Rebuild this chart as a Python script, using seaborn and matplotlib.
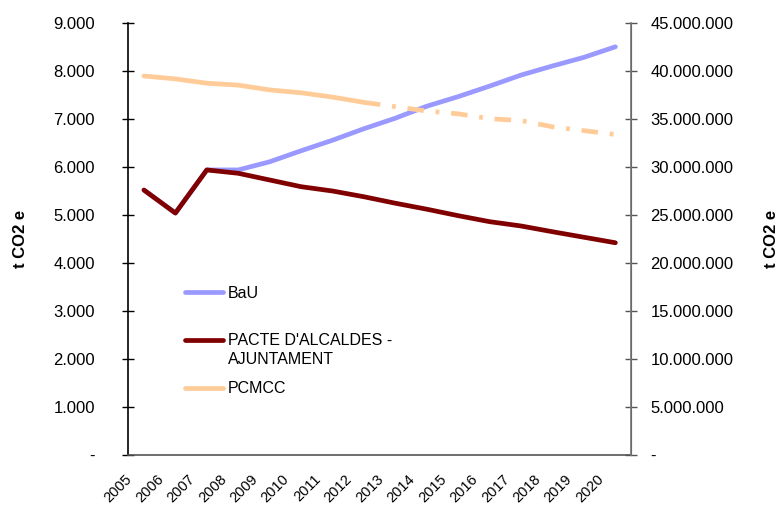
import matplotlib
matplotlib.use('Agg')
import matplotlib.pyplot as plt
import matplotlib.ticker as mticker
import matplotlib.transforms as mtransforms
import numpy as np
import pandas as pd
import seaborn as sns

# ──────────────────────────────────────────
# DADES
# ──────────────────────────────────────────
anys = ["2005", "2006", "2007", "2008", "2009", "2010", "2011", "2012",
        "2013", "2014", "2015", "2016", "2017", "2018", "2019", "2020"]

# eix esquerre (t CO2 e)
bau = [5520, 5040, 5940, 5940, 6110, 6340, 6560, 6800,
       7020, 7270, 7470, 7690, 7920, 8110, 8290, 8510]
pacte = [5520, 5040, 5940, 5870, 5730, 5590, 5500, 5380,
         5245, 5120, 4985, 4860, 4770, 4650, 4535, 4420]

# eix dret (t CO2 e)
pcmcc = [39500000, 39200000, 38750000, 38550000, 38050000, 37750000, 37300000, 36750000,
         36300000, 35850000, 35550000, 35050000, 34850000, 34200000, 33800000, 33400000]
pcmcc_tall = 7  # índex de l'últim any amb línia contínua (2012)

etiquetes = ["BaU", "PACTE D'ALCALDES -", "PCMCC"]
etiqueta_extra = "AJUNTAMENT"  # segona línia de l'etiqueta del Pacte
COR_BAU, COR_PACTE, COR_PCMCC = "#9999FF", "#800000", "#FFCC99"

# ──────────────────────────────────────────
# GRÀFIC
# ──────────────────────────────────────────
sns.set_style("white")
plt.rcParams['font.family'] = ['Liberation Sans', 'DejaVu Sans']
plt.rcParams['text.color'] = 'black'
plt.rcParams['axes.labelcolor'] = 'black'
plt.rcParams['xtick.labelcolor'] = 'black'
plt.rcParams['ytick.labelcolor'] = 'black'

x = np.arange(len(anys))
df = pd.DataFrame({"x": x, "bau": bau, "pacte": pacte, "pcmcc": pcmcc})

fig = plt.figure(figsize=(7.82, 5.07), dpi=100)
ax = fig.add_axes([0.164, 0.1035, 0.643, 0.8505])
ax2 = ax.twinx()

lw = 3.4
sns.lineplot(data=df, x="x", y="bau", ax=ax, color=COR_BAU, linewidth=lw, label=etiquetes[0], legend=False)
sns.lineplot(data=df, x="x", y="pacte", ax=ax, color=COR_PACTE, linewidth=lw, label=etiquetes[1], legend=False)

sol = df.iloc[:pcmcc_tall + 1]
dis = df.iloc[pcmcc_tall:]
sns.lineplot(data=sol, x="x", y="pcmcc", ax=ax2, color=COR_PCMCC, linewidth=lw, label=etiquetes[2], legend=False)
sns.lineplot(data=dis, x="x", y="pcmcc", ax=ax2, color=COR_PCMCC, linewidth=lw, legend=False)
ax2.lines[-1].set_dashes([3.5, 2.5, 0.8, 2.5])

# eixos
ax.set_xlim(-0.5, len(anys) - 0.5)
ax.set_ylim(0, 9000)
ax2.set_ylim(0, 45000000)
ax.yaxis.set_major_locator(mticker.MultipleLocator(1000))
ax2.yaxis.set_major_locator(mticker.MultipleLocator(5000000))

def fmt_punts(v, pos):
    if abs(v) < 1e-9:
        return "-"
    return f"{v:,.0f}".replace(",", ".")

ax.yaxis.set_major_formatter(mticker.FuncFormatter(fmt_punts))
ax2.yaxis.set_major_formatter(mticker.FuncFormatter(fmt_punts))

ax.set_xticks(np.arange(-0.5, len(anys), 1.0))
ax.set_xticklabels([])
ax.set_xticks(x, minor=True)
ax.set_xticklabels(anys, minor=True, rotation=45, ha='right', rotation_mode='anchor')
ax.tick_params(axis='x', which='minor', length=0, pad=10, labelsize=10.5, labelcolor='black')
ax.tick_params(axis='x', which='major', direction='inout', length=8, width=1, color='#555555')
ax.tick_params(axis='y', direction='inout', length=8, width=1, color='black', pad=20,
               labelsize=12, labelcolor='black')
ax2.tick_params(axis='y', direction='inout', length=8, width=1, color='#555555', pad=10,
                labelsize=12, labelcolor='black')

# desplaça les etiquetes d'any cap a l'esquerra
despl = mtransforms.ScaledTranslation(-0.19, -0.04, fig.dpi_scale_trans)
for t in ax.get_xticklabels(minor=True):
    t.set_transform(t.get_transform() + despl)

ax.set_xlabel("")
ax.set_ylabel("t CO2 e", fontsize=12, fontweight='bold', color='black')
ax2.set_ylabel("t CO2 e", fontsize=12, fontweight='bold', rotation=90, color='black')
ax.yaxis.set_label_coords(-0.199, 0.5)
ax2.yaxis.set_label_coords(1.264, 0.5)

for a in (ax, ax2):
    a.spines['top'].set_visible(False)
ax.spines['left'].set_color('black')
ax.spines['bottom'].set_color('#555555')
ax2.spines['right'].set_color('#777777')
for s in ('left', 'bottom'):
    ax.spines[s].set_linewidth(1.2)
ax2.spines['right'].set_linewidth(1.2)
ax2.spines['left'].set_visible(False)
ax2.spines['bottom'].set_visible(False)

# llegenda
h1, l1 = ax.get_legend_handles_labels()
h2, l2 = ax2.get_legend_handles_labels()
leg = ax.legend(h1 + h2, l1 + l2, loc='upper left', bbox_to_anchor=(0.096, 0.41),
                frameon=False, fontsize=11.5, handlelength=2.4, handletextpad=0.3,
                labelspacing=2.05, borderpad=0, labelcolor='black')
ax.annotate(etiqueta_extra, xy=(0, 0), xycoords=leg.get_texts()[1],
            xytext=(0, -2.5), textcoords='offset points', va='top', ha='left',
            fontsize=11.5, color='black', zorder=10)

plt.savefig("out.png", dpi=100)
plt.close()
